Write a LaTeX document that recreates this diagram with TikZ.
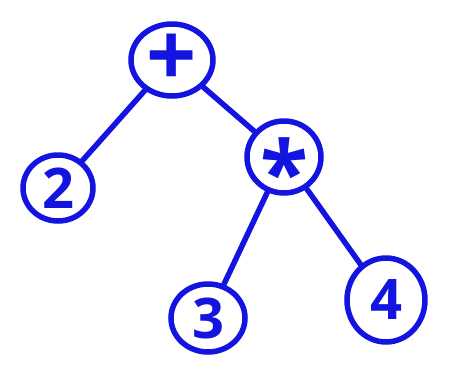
\documentclass[tikz,border=0pt]{standalone}
\usepackage{fontspec}
\setmainfont{Open Sans}
\usetikzlibrary{shapes.geometric}
\definecolor{ink}{RGB}{20,20,225}
\begin{document}
\begin{tikzpicture}[x=1pt,y=-1pt,
  tnode/.style={ellipse,draw=ink,line width=5.5pt,text=ink,font=\bfseries\fontsize{56}{58}\selectfont,inner sep=0pt},
  edge/.style={draw=ink,line width=5.5pt,line cap=round}]
\fill[white] (0,0) rectangle (451,368);
\useasboundingbox (0,0) rectangle (451,368);
\node[tnode,minimum width=82pt,minimum height=72pt] (plus) at (172,60) {};
\node[text=ink,font=\bfseries\fontsize{88}{88}\selectfont,inner sep=0pt] (plusl) at (plus.center) {+};
\node[tnode,minimum width=70pt,minimum height=66pt] (two) at (58,188) {2};
\node[tnode,minimum width=74pt,minimum height=72pt] (times) at (284,157) {};
\node[text=ink,font=\bfseries\fontsize{88}{88}\selectfont,inner sep=0pt,yshift=-14pt] (timesl) at (times.center) {*};
\node[tnode,minimum width=74pt,minimum height=68pt] (three) at (208,318) {3};
\node[tnode,minimum width=78pt,minimum height=84pt] (four) at (386,300) {4};
\draw[edge] (plus) -- (two);
\draw[edge] (plus) -- (times);
\draw[edge] (times) -- (three);
\draw[edge] (times) -- (four);
\end{tikzpicture}
\end{document}
